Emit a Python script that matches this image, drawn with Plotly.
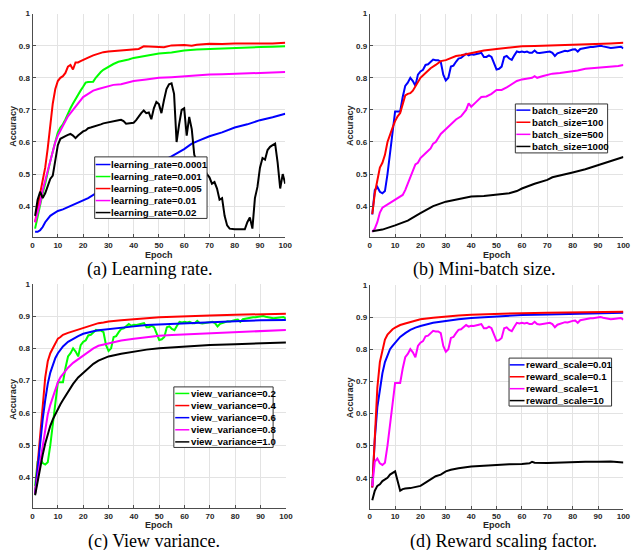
import plotly.graph_objects as go

W, H = 637, 550
EPOCHS = list(range(1, 101))

# ---------------- data ----------------
# shared jagged curve: batch_size=20 / view_variance=0.2 / reward_scale=1
base_curve = [0.374, 0.45, 0.46, 0.445, 0.44, 0.447, 0.50, 0.56, 0.63, 0.695,
              0.695, 0.695, 0.74, 0.775, 0.785, 0.80, 0.79, 0.775, 0.81, 0.82,
              0.825, 0.84, 0.842, 0.85, 0.857, 0.855, 0.855, 0.85, 0.81, 0.792,
              0.80, 0.835, 0.838, 0.85, 0.86, 0.862, 0.87, 0.875, 0.87, 0.873,
              0.872, 0.875, 0.876, 0.878, 0.865, 0.865, 0.87, 0.865, 0.845, 0.826,
              0.828, 0.835, 0.865, 0.868, 0.86, 0.856, 0.87, 0.882, 0.88, 0.882,
              0.88, 0.882, 0.878, 0.878, 0.885, 0.878, 0.877, 0.878, 0.88, 0.88,
              0.882, 0.878, 0.868, 0.876, 0.878, 0.882, 0.884, 0.883, 0.886, 0.888,
              0.889, 0.882, 0.89, 0.892, 0.893, 0.895, 0.896, 0.896, 0.898, 0.899,
              0.9, 0.898, 0.896, 0.894, 0.893, 0.894, 0.895, 0.898, 0.897, 0.892]

# (a) learning rate
lr_labels = ["learning_rate=0.0001", "learning_rate=0.001", "learning_rate=0.005",
             "learning_rate=0.01", "learning_rate=0.02"]
lr_0001_x = [1, 2, 3, 4, 5, 6, 7, 8, 10, 12, 15, 18, 20, 22, 25, 30, 35, 40, 45, 50,
             55, 60, 63, 66, 70, 75, 80, 85, 90, 95, 100]
lr_0001_y = [0.32, 0.32, 0.325, 0.335, 0.35, 0.36, 0.37, 0.375, 0.385, 0.39, 0.40, 0.41,
             0.418, 0.425, 0.44, 0.46, 0.48, 0.50, 0.517, 0.535, 0.555, 0.578, 0.595,
             0.605, 0.618, 0.63, 0.645, 0.655, 0.668, 0.677, 0.688]
lr_001_x = [1, 2, 3, 4, 5, 6, 7, 8, 9, 10, 11, 12, 13, 14, 15, 16, 17, 18, 19, 20,
            21, 22, 23, 24, 25, 26, 27, 28, 30, 32, 34, 36, 38, 40, 45, 50, 55, 60,
            65, 70, 75, 80, 85, 90, 95, 100]
lr_001_y = [0.33, 0.37, 0.40, 0.44, 0.47, 0.51, 0.54, 0.57, 0.60, 0.63,
            0.645, 0.655, 0.67, 0.69, 0.705, 0.72, 0.735, 0.75, 0.76, 0.772,
            0.785, 0.787, 0.787, 0.788, 0.80, 0.81, 0.818, 0.825, 0.835, 0.843,
            0.85, 0.853, 0.857, 0.862, 0.868, 0.876, 0.879, 0.885, 0.888, 0.89,
            0.891, 0.893, 0.895, 0.896, 0.897, 0.898]
lr_005_x = [1, 2, 3, 4, 5, 6, 7, 8, 9, 10, 11, 12, 13, 14, 15, 16, 17, 18, 19, 20,
            22, 24, 26, 28, 30, 33, 36, 38, 40, 42, 44, 46, 48, 50, 52, 55, 60, 63,
            65, 70, 75, 80, 85, 90, 95, 100]
lr_005_y = [0.35, 0.40, 0.44, 0.48, 0.52, 0.58, 0.65, 0.72, 0.765, 0.79,
            0.80, 0.805, 0.815, 0.835, 0.84, 0.826, 0.848, 0.848, 0.852, 0.855,
            0.863, 0.87, 0.876, 0.88, 0.882, 0.884, 0.887, 0.888, 0.89, 0.89,
            0.898, 0.897, 0.896, 0.897, 0.895, 0.901, 0.902, 0.90, 0.903, 0.906,
            0.905, 0.907, 0.907, 0.906, 0.907, 0.909]
lr_01_x = [1, 2, 3, 4, 5, 6, 7, 8, 9, 10, 11, 12, 13, 14, 15, 16, 17, 18, 19, 20,
           22, 24, 26, 28, 30, 32, 35, 38, 40, 45, 50, 55, 60, 65, 70, 75, 80, 85,
           90, 95, 100]
lr_01_y = [0.35, 0.38, 0.41, 0.45, 0.48, 0.51, 0.54, 0.57, 0.60, 0.62,
           0.635, 0.65, 0.665, 0.68, 0.69, 0.70, 0.71, 0.72, 0.73, 0.74,
           0.75, 0.76, 0.765, 0.77, 0.775, 0.778, 0.78, 0.785, 0.79, 0.795,
           0.80, 0.802, 0.805, 0.807, 0.81, 0.811, 0.812, 0.814, 0.815, 0.817, 0.818]
lr_02_y = [0.37, 0.42, 0.445, 0.425, 0.44, 0.465, 0.485, 0.495, 0.55, 0.59,
           0.61, 0.615, 0.618, 0.622, 0.625, 0.62, 0.612, 0.62, 0.628, 0.633,
           0.636, 0.643, 0.645, 0.647, 0.65, 0.653, 0.655, 0.658, 0.66, 0.662,
           0.663, 0.665, 0.667, 0.668, 0.669, 0.665, 0.657, 0.658, 0.66, 0.66,
           0.668, 0.68, 0.69, 0.698, 0.69, 0.692, 0.671, 0.705, 0.725, 0.718,
           0.69, 0.73, 0.765, 0.78, 0.783, 0.75, 0.60, 0.655, 0.70, 0.705,
           0.62, 0.678, 0.64, 0.56, 0.54, 0.53, 0.52, 0.515, 0.50, 0.49,
           0.47, 0.475, 0.455, 0.42, 0.425, 0.37, 0.34, 0.33, 0.328, 0.328,
           0.328, 0.328, 0.328, 0.328, 0.35, 0.365, 0.33, 0.425, 0.46, 0.52,
           0.55, 0.545, 0.575, 0.585, 0.59, 0.595, 0.535, 0.455, 0.50, 0.47]

# (b) mini-batch size
bs_labels = ["batch_size=20", "batch_size=100", "batch_size=500", "batch_size=1000"]
bs100_x = [1, 2, 3, 4, 5, 6, 7, 8, 9, 10, 11, 12, 13, 14, 15, 16, 17, 18, 19, 20,
           22, 24, 26, 28, 30, 32, 34, 36, 38, 40, 45, 50, 55, 60, 65, 70, 75, 80,
           85, 90, 95, 100]
bs100_y = [0.375, 0.44, 0.48, 0.52, 0.535, 0.56, 0.60, 0.625, 0.645, 0.665,
           0.68, 0.69, 0.72, 0.745, 0.75, 0.752, 0.76, 0.775, 0.79, 0.80,
           0.815, 0.83, 0.84, 0.852, 0.855, 0.862, 0.868, 0.87, 0.873, 0.876,
           0.885, 0.89, 0.895, 0.898, 0.899, 0.90, 0.902, 0.903, 0.905, 0.906, 0.907, 0.909]
bs500_x = [1, 2, 3, 4, 5, 6, 7, 8, 9, 10, 11, 12, 13, 14, 15, 16, 17, 18, 19, 20,
           22, 24, 25, 26, 28, 30, 32, 34, 36, 38, 39, 40, 42, 44, 46, 48, 50, 52,
           54, 56, 58, 60, 62, 64, 65, 66, 68, 70, 72, 75, 78, 80, 82, 85, 88, 90,
           92, 95, 98, 100]
bs500_y = [0.32, 0.33, 0.35, 0.38, 0.395, 0.40, 0.405, 0.41, 0.415, 0.42,
           0.425, 0.43, 0.435, 0.45, 0.47, 0.49, 0.51, 0.53, 0.535, 0.55,
           0.565, 0.58, 0.595, 0.60, 0.625, 0.64, 0.655, 0.67, 0.68, 0.70,
           0.72, 0.71, 0.725, 0.74, 0.742, 0.75, 0.762, 0.762, 0.77, 0.78,
           0.79, 0.795, 0.797, 0.80, 0.805, 0.80, 0.805, 0.81, 0.813, 0.815,
           0.818, 0.82, 0.823, 0.828, 0.83, 0.83, 0.832, 0.835, 0.837, 0.84]
bs1000_x = [1, 5, 10, 15, 20, 25, 30, 35, 40, 45, 50, 55, 58, 60, 65, 70, 72, 75,
            78, 80, 85, 90, 95, 100]
bs1000_y = [0.322, 0.327, 0.34, 0.355, 0.378, 0.40, 0.414, 0.423, 0.43, 0.432,
            0.437, 0.44, 0.447, 0.455, 0.47, 0.482, 0.49, 0.495, 0.502, 0.505,
            0.515, 0.528, 0.54, 0.553]

# (c) view variance
vv_labels = ["view_variance=0.2", "view_variance=0.4", "view_variance=0.6",
             "view_variance=0.8", "view_variance=1.0"]
vv_x = [1, 2, 3, 4, 5, 6, 7, 8, 9, 10, 11, 12, 14, 16, 18, 20, 22, 24, 26, 28, 30,
        35, 40, 45, 50, 55, 60, 70, 80, 90, 100]
vv04_y = [0.35, 0.44, 0.55, 0.64, 0.71, 0.76, 0.785, 0.80, 0.815, 0.83, 0.835, 0.842,
          0.848, 0.853, 0.858, 0.864, 0.87, 0.873, 0.878, 0.88, 0.883, 0.887, 0.891,
          0.893, 0.896, 0.898, 0.899, 0.902, 0.904, 0.906, 0.907]
vv06_y = [0.35, 0.43, 0.51, 0.58, 0.64, 0.69, 0.725, 0.75, 0.77, 0.785, 0.797, 0.806,
          0.82, 0.83, 0.838, 0.845, 0.85, 0.853, 0.856, 0.858, 0.86, 0.864, 0.868,
          0.872, 0.874, 0.876, 0.878, 0.881, 0.884, 0.887, 0.888]
vv08_y = [0.35, 0.40, 0.46, 0.51, 0.555, 0.595, 0.625, 0.65, 0.675, 0.695, 0.71, 0.72,
          0.74, 0.755, 0.767, 0.777, 0.79, 0.80, 0.808, 0.812, 0.816, 0.824, 0.83,
          0.835, 0.839, 0.841, 0.843, 0.847, 0.851, 0.855, 0.857]
vv10_y = [0.345, 0.39, 0.43, 0.47, 0.505, 0.535, 0.56, 0.58, 0.597, 0.612, 0.627, 0.64,
          0.665, 0.69, 0.71, 0.725, 0.74, 0.752, 0.762, 0.768, 0.775, 0.783, 0.79,
          0.796, 0.80, 0.803, 0.806, 0.81, 0.813, 0.816, 0.818]

# (d) reward scaling factor
rs_labels = ["reward_scale=0.01", "reward_scale=0.1", "reward_scale=1", "reward_scale=10"]
rs_x = [1, 2, 3, 4, 5, 6, 7, 8, 9, 10, 12, 14, 16, 18, 20, 25, 30, 35, 40, 50, 60,
        70, 80, 90, 100]
rs001_y = [0.37, 0.52, 0.62, 0.68, 0.725, 0.76, 0.78, 0.80, 0.81, 0.82, 0.838, 0.85,
           0.86, 0.867, 0.872, 0.882, 0.888, 0.893, 0.897, 0.902, 0.906, 0.908, 0.91,
           0.912, 0.913]
rs01_y = [0.37, 0.55, 0.68, 0.76, 0.80, 0.83, 0.845, 0.855, 0.862, 0.867, 0.875, 0.88,
          0.885, 0.89, 0.893, 0.898, 0.902, 0.905, 0.907, 0.91, 0.912, 0.913, 0.914,
          0.915, 0.916]
rs10_x = [1, 2, 3, 4, 5, 6, 7, 8, 9, 10, 11, 12, 13, 14, 16, 18, 20, 22, 24, 26, 28,
          30, 32, 35, 40, 45, 50, 55, 60, 63, 64, 65, 70, 75, 80, 85, 90, 95, 100]
rs10_y = [0.33, 0.36, 0.375, 0.38, 0.39, 0.395, 0.40, 0.41, 0.415, 0.42, 0.39, 0.36,
          0.365, 0.367, 0.368, 0.372, 0.375, 0.385, 0.395, 0.405, 0.41, 0.42, 0.425,
          0.43, 0.435, 0.438, 0.44, 0.442, 0.443, 0.445, 0.45, 0.447, 0.446, 0.448,
          0.448, 0.45, 0.45, 0.451, 0.448]

x_ticks = [0, 10, 20, 30, 40, 50, 60, 70, 80, 90, 100]
y_ticks = [0.4, 0.5, 0.6, 0.7, 0.8, 0.9, 1.0]
y_ticktext = ["0.4", "0.5", "0.6", "0.7", "0.8", "0.9", "1"]

BLUE, GREEN, RED, MAGENTA, BLACK = "#0000ff", "#00ff00", "#ff0000", "#ff00ff", "#000000"

# ---------------- layout spec (pixels) ----------------
panels = [
    dict(box=(31, 9.7, 287.3, 235.0), ymin=0.303,
         series=[(lr_0001_x, lr_0001_y, BLUE), (lr_001_x, lr_001_y, GREEN),
                 (lr_005_x, lr_005_y, RED), (lr_01_x, lr_01_y, MAGENTA),
                 (EPOCHS, lr_02_y, BLACK)],
         labels=lr_labels, caption="(a) Learning rate.", cap=(150, 267.5),
         ylab=(11.7, 123), xlab=(159, 253),
         leg=dict(box=(94, 154, 208, 216), first=161.7, step=12.1, line=(95, 110), tx=110)),
    dict(box=(373, 9.7, 630.3, 235.0), ymin=0.303,
         series=[(EPOCHS, base_curve, BLUE), (bs100_x, bs100_y, RED),
                 (bs500_x, bs500_y, MAGENTA), (bs1000_x, bs1000_y, BLACK)],
         labels=bs_labels, caption="(b) Mini-batch size.", cap=(489, 267.5),
         ylab=(353, 123), xlab=(502, 253),
         leg=dict(box=(520.7, 100.7, 614.3, 150), first=106.9, step=12.2, line=(521.7, 536), tx=536.7)),
    dict(box=(31, 281.8, 288, 508.0), ymin=0.3046,
         series=[(EPOCHS, base_curve, GREEN), (vv_x, vv04_y, RED), (vv_x, vv06_y, BLUE),
                 (vv_x, vv08_y, MAGENTA), (vv_x, vv10_y, BLACK)],
         labels=vv_labels, caption="(c) View variance.", cap=(154, 541),
         ylab=(11.7, 398), xlab=(159, 524.5),
         leg=dict(box=(174.3, 385.7, 275, 446.7), first=392.3, step=12.2, line=(175.7, 190), tx=190.7)),
    dict(box=(373, 282.9, 630.3, 508.3), ymin=0.3043,
         series=[(rs_x, rs001_y, BLUE), (rs_x, rs01_y, RED), (EPOCHS, base_curve, MAGENTA),
                 (rs10_x, rs10_y, BLACK)],
         labels=rs_labels, caption="(d) Reward scaling factor.", cap=(509, 541),
         ylab=(353, 397), xlab=(502, 524.5),
         leg=dict(box=(514.3, 356.7, 618.3, 405), first=363.5, step=12.0, line=(515, 530), tx=530.7)),
]


def fx(px):
    return px / W


def fy(py):
    return 1 - py / H


SANS = "Liberation Sans, Arial, Helvetica, sans-serif"
SERIF = "Liberation Serif, Times New Roman, serif"
AXIS_COLOR = "#4d4d4d"
TEXT_COLOR = "#262626"

fig = go.Figure()
annotations = []
shapes = []
layout_axes = {}

for i, p in enumerate(panels, start=1):
    sfx = "" if i == 1 else str(i)
    xa, ya = "x" + sfx, "y" + sfx
    x0, y0, x1, y1 = p["box"]
    for (xs, ys, col) in p["series"]:
        fig.add_trace(go.Scatter(x=xs, y=ys, mode="lines", xaxis=xa, yaxis=ya,
                                 line=dict(color=col, width=2), showlegend=False,
                                 hoverinfo="skip"))
    common = dict(showgrid=True, gridcolor="#e3e3e3", gridwidth=1, zeroline=False,
                  showline=True, linecolor=AXIS_COLOR, linewidth=1, mirror=False,
                  ticks="inside", ticklen=3, tickwidth=1, tickcolor=AXIS_COLOR,
                  tickfont=dict(family=SANS, size=8, color=TEXT_COLOR, weight="bold"))
    layout_axes["xaxis" + sfx] = dict(common, domain=[fx(x0), fx(x1)], range=[0, 100],
                                      tickvals=x_ticks, anchor=ya)
    layout_axes["yaxis" + sfx] = dict(common, domain=[fy(y1), fy(y0)], range=[p["ymin"], 1.0],
                                      tickvals=y_ticks, ticktext=y_ticktext, anchor=xa)
    # axis titles
    annotations.append(dict(x=fx(p["ylab"][0]), y=fy(p["ylab"][1]), xref="paper", yref="paper",
                            text="<b>Accuracy</b>", textangle=-90, showarrow=False,
                            xanchor="center", yanchor="middle", borderpad=0,
                            font=dict(family=SANS, size=9, color=TEXT_COLOR)))
    annotations.append(dict(x=fx(p["xlab"][0]), y=fy(p["xlab"][1]), xref="paper", yref="paper",
                            text="<b>Epoch</b>", showarrow=False,
                            xanchor="center", yanchor="middle", borderpad=0,
                            font=dict(family=SANS, size=9, color=TEXT_COLOR)))
    # caption
    annotations.append(dict(x=fx(p["cap"][0]), y=fy(p["cap"][1]), xref="paper", yref="paper",
                            text=p["caption"], showarrow=False,
                            xanchor="center", yanchor="middle", borderpad=0,
                            font=dict(family=SERIF, size=18, color="black")))
    # legend box
    lg = p["leg"]
    bx0, by0, bx1, by1 = lg["box"]
    shapes.append(dict(type="rect", xref="paper", yref="paper", layer="above",
                       x0=fx(bx0), x1=fx(bx1), y0=fy(by1), y1=fy(by0),
                       fillcolor="white", line=dict(color="#333333", width=1)))
    for k, (lab, s) in enumerate(zip(p["labels"], p["series"])):
        cy = lg["first"] + k * lg["step"]
        shapes.append(dict(type="line", xref="paper", yref="paper", layer="above",
                           x0=fx(lg["line"][0]), x1=fx(lg["line"][1]), y0=fy(cy), y1=fy(cy),
                           line=dict(color=s[2], width=1.5)))
        annotations.append(dict(x=fx(lg["tx"]), y=fy(cy), xref="paper", yref="paper",
                                text="<b>" + lab + "</b>", showarrow=False,
                                xanchor="left", yanchor="middle", borderpad=0,
                                font=dict(family=SANS, size=9.7, color="black")))

fig.update_layout(width=W, height=H, margin=dict(l=0, r=0, t=0, b=0),
                  paper_bgcolor="white", plot_bgcolor="white",
                  annotations=annotations, shapes=shapes, **layout_axes)

fig.write_html("out.html")
